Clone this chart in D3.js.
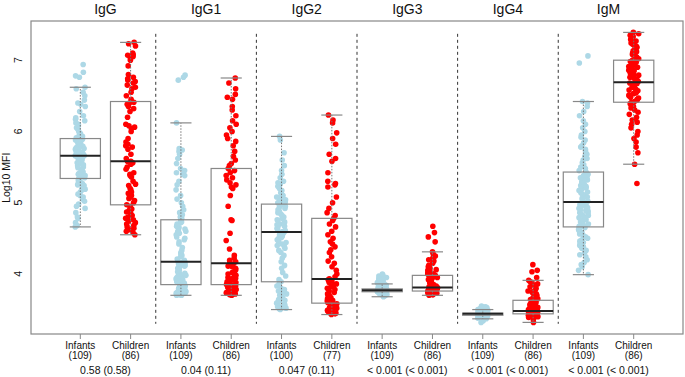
<!DOCTYPE html>
<html>
<head>
<meta charset="utf-8">
<script src="https://cdn.jsdelivr.net/npm/d3@7"></script>
<style>
	body { margin: 0; background: #fff; }
	text { font-family: 'Liberation Sans', Arial, sans-serif; fill: #111; }
</style>
</head>
<body>
<div id="chart"></div>
<script>
// panels and groups
const antibodies = ['IgG', 'IgG1', 'IgG2', 'IgG3', 'IgG4', 'IgM'];
const groups = ['Infants', 'Children'];
const groupCounts = [109, 86, 109, 86, 100, 77, 109, 86, 109, 86, 109, 86];
const pValues = ['0.58 (0.58)', '0.04 (0.11)', '0.047 (0.11)', '< 0.001 (< 0.001)', '< 0.001 (< 0.001)', '< 0.001 (< 0.001)'];
const yTicks = [4, 5, 6, 7];

// box statistics (one per box, left to right)
const whiskerLow = [4.66, 4.55, 3.70, 3.70, 3.50, 3.43, 3.68, 3.70, 3.37, 3.32, 3.99, 5.54];
const quartile1 = [5.34, 4.97, 3.85, 3.85, 3.89, 3.59, 3.75, 3.76, 3.42, 3.44, 4.66, 6.41];
const medians = [5.66, 5.58, 4.17, 4.15, 4.59, 3.93, 3.77, 3.81, 3.44, 3.48, 5.01, 6.69];
const quartile3 = [5.90, 6.42, 4.76, 5.48, 4.98, 4.78, 3.79, 3.98, 3.45, 3.63, 5.43, 7.00];
const whiskerHigh = [6.62, 7.25, 6.12, 6.75, 5.93, 6.23, 3.86, 4.31, 3.50, 3.91, 6.42, 7.39];

// individual log10 MFI values
const iggInfants = [4.66, 4.68, 4.72, 4.78, 4.80, 4.86, 4.92, 4.95, 4.98, 5.02, 5.05, 5.08, 5.10, 5.12, 5.15, 5.17, 5.19, 5.20, 5.22, 5.24, 5.25, 5.27, 5.28, 5.30, 5.31, 5.32, 5.34,
	5.35, 5.37, 5.38, 5.40, 5.41, 5.43, 5.44, 5.46, 5.47, 5.49, 5.50, 5.52, 5.53, 5.55, 5.56, 5.57, 5.58, 5.60, 5.61, 5.62, 5.63, 5.64, 5.65, 5.65, 5.66, 5.66, 5.66,
	5.67, 5.68, 5.69, 5.70, 5.71, 5.72, 5.73, 5.74, 5.75, 5.76, 5.77, 5.78, 5.79, 5.80, 5.80, 5.81, 5.82, 5.83, 5.84, 5.85, 5.86, 5.86, 5.87, 5.88, 5.88, 5.89, 5.90,
	5.91, 5.93, 5.95, 5.97, 6.00, 6.03, 6.05, 6.08, 6.10, 6.12, 6.15, 6.17, 6.19, 6.22, 6.28, 6.35, 6.38, 6.40, 6.44, 6.50, 6.55, 6.60, 6.62, 6.76, 6.78, 6.83, 6.94];
const iggChildren = [4.55, 4.58, 4.60, 4.62, 4.64, 4.66, 4.68, 4.70, 4.72, 4.74, 4.76, 4.78, 4.80, 4.82, 4.85, 4.87, 4.89, 4.91, 4.93, 4.95, 4.97,
	5.00, 5.03, 5.06, 5.08, 5.10, 5.13, 5.15, 5.18, 5.20, 5.24, 5.26, 5.30, 5.36, 5.38, 5.40, 5.42, 5.47, 5.50, 5.54, 5.56, 5.58, 5.58,
	5.62, 5.68, 5.75, 5.78, 5.80, 5.82, 5.85, 5.90, 6.00, 6.04, 6.06, 6.08, 6.10, 6.20, 6.28, 6.32, 6.35, 6.38, 6.40, 6.41, 6.42,
	6.45, 6.50, 6.55, 6.60, 6.62, 6.65, 6.68, 6.70, 6.72, 6.74, 6.76, 6.80, 6.92, 7.00, 7.03, 7.05, 7.07, 7.08, 7.10, 7.20, 7.23, 7.25];
const igg1Infants = [3.70, 3.70, 3.71, 3.71, 3.72, 3.72, 3.73, 3.73, 3.74, 3.74, 3.75, 3.75, 3.76, 3.76, 3.77, 3.77, 3.78, 3.78, 3.79, 3.80, 3.80, 3.81, 3.82, 3.82, 3.83, 3.84, 3.85,
	3.86, 3.87, 3.88, 3.89, 3.90, 3.90, 3.91, 3.92, 3.93, 3.94, 3.95, 3.96, 3.97, 3.98, 4.00, 4.01, 4.03, 4.05, 4.06, 4.08, 4.10, 4.11, 4.12, 4.14, 4.15, 4.16, 4.17,
	4.17, 4.19, 4.21, 4.24, 4.26, 4.28, 4.30, 4.33, 4.37, 4.42, 4.45, 4.48, 4.50, 4.52, 4.55, 4.57, 4.59, 4.60, 4.62, 4.63, 4.65, 4.67, 4.68, 4.70, 4.72, 4.73, 4.75, 4.76,
	4.78, 4.80, 4.83, 4.86, 4.90, 4.95, 5.00, 5.05, 5.10, 5.18, 5.25, 5.30, 5.38, 5.40, 5.42, 5.45, 5.48, 5.55, 5.62, 5.68, 5.72, 5.74, 5.76, 6.12, 6.72, 6.76, 6.79];
const igg1Children = [3.70, 3.71, 3.71, 3.72, 3.73, 3.73, 3.74, 3.75, 3.75, 3.76, 3.77, 3.78, 3.78, 3.79, 3.80, 3.81, 3.82, 3.83, 3.83, 3.84, 3.85,
	3.86, 3.87, 3.88, 3.89, 3.90, 3.91, 3.92, 3.93, 3.94, 3.95, 3.96, 3.98, 4.00, 4.02, 4.04, 4.06, 4.08, 4.10, 4.11, 4.13, 4.14, 4.15,
	4.17, 4.19, 4.22, 4.26, 4.35, 4.47, 4.57, 4.75, 4.76, 4.95, 5.10, 5.20, 5.22, 5.25, 5.28, 5.32, 5.35, 5.38, 5.42, 5.45, 5.48,
	5.52, 5.55, 5.60, 5.65, 5.72, 5.80, 5.86, 5.90, 5.95, 6.00, 6.05, 6.10, 6.15, 6.22, 6.30, 6.35, 6.45, 6.48, 6.52, 6.60, 6.68, 6.75];
const igg2Infants = [3.50, 3.51, 3.52, 3.53, 3.54, 3.55, 3.56, 3.58, 3.59, 3.60, 3.62, 3.63, 3.64, 3.66, 3.67, 3.68, 3.70, 3.72, 3.74, 3.76, 3.78, 3.80, 3.83, 3.86, 3.89,
	3.92, 3.97, 4.02, 4.08, 4.12, 4.17, 4.22, 4.26, 4.30, 4.33, 4.36, 4.38, 4.40, 4.42, 4.44, 4.46, 4.48, 4.50, 4.51, 4.53, 4.54, 4.55, 4.56, 4.58, 4.59,
	4.60, 4.61, 4.63, 4.64, 4.66, 4.67, 4.69, 4.70, 4.72, 4.73, 4.75, 4.76, 4.78, 4.80, 4.82, 4.84, 4.86, 4.88, 4.90, 4.92, 4.94, 4.95, 4.96, 4.97, 4.98,
	5.00, 5.01, 5.02, 5.03, 5.04, 5.05, 5.06, 5.08, 5.10, 5.12, 5.14, 5.17, 5.20, 5.23, 5.26, 5.28, 5.30, 5.35, 5.40, 5.45, 5.52, 5.60, 5.70, 5.88, 5.93];
const igg2Children = [3.43, 3.44, 3.45, 3.45, 3.46, 3.47, 3.48, 3.48, 3.49, 3.50, 3.51, 3.52, 3.53, 3.54, 3.55, 3.56, 3.57, 3.58, 3.59,
	3.60, 3.62, 3.63, 3.65, 3.67, 3.68, 3.70, 3.72, 3.74, 3.76, 3.78, 3.80, 3.82, 3.84, 3.86, 3.88, 3.90, 3.91, 3.92, 3.93,
	3.96, 4.00, 4.05, 4.10, 4.15, 4.18, 4.24, 4.30, 4.34, 4.38, 4.42, 4.45, 4.50, 4.55, 4.60, 4.66, 4.70, 4.75, 4.78,
	4.82, 4.86, 4.92, 5.00, 5.08, 5.22, 5.25, 5.27, 5.30, 5.42, 5.58, 5.62, 5.68, 5.82, 5.90, 5.98, 6.12, 6.16, 6.23];
const igg3Infants = [3.68, 3.69, 3.70, 3.70, 3.71, 3.71, 3.72, 3.72, 3.72, 3.73, 3.73, 3.73, 3.73, 3.74, 3.74, 3.74, 3.74, 3.74, 3.75, 3.75, 3.75, 3.75, 3.75, 3.75, 3.75, 3.75, 3.75,
	3.75, 3.76, 3.76, 3.76, 3.76, 3.76, 3.76, 3.76, 3.76, 3.76, 3.76, 3.76, 3.76, 3.77, 3.77, 3.77, 3.77, 3.77, 3.77, 3.77, 3.77, 3.77, 3.77, 3.77, 3.77, 3.77, 3.77,
	3.77, 3.77, 3.77, 3.77, 3.77, 3.78, 3.78, 3.78, 3.78, 3.78, 3.78, 3.78, 3.78, 3.78, 3.78, 3.79, 3.79, 3.79, 3.79, 3.79, 3.79, 3.79, 3.79, 3.79, 3.79, 3.79,
	3.80, 3.80, 3.80, 3.81, 3.81, 3.81, 3.82, 3.82, 3.82, 3.83, 3.83, 3.84, 3.84, 3.85, 3.85, 3.86, 3.86, 3.88, 3.89, 3.90, 3.91, 3.92, 3.93, 3.94, 3.95, 3.97, 3.98, 4.00];
const igg3Children = [3.70, 3.71, 3.71, 3.72, 3.72, 3.73, 3.73, 3.73, 3.74, 3.74, 3.74, 3.75, 3.75, 3.75, 3.75, 3.76, 3.76, 3.76, 3.76, 3.76, 3.76,
	3.77, 3.77, 3.77, 3.77, 3.78, 3.78, 3.78, 3.78, 3.79, 3.79, 3.79, 3.79, 3.80, 3.80, 3.80, 3.80, 3.80, 3.81, 3.81, 3.81, 3.81, 3.81,
	3.82, 3.82, 3.83, 3.83, 3.84, 3.85, 3.86, 3.87, 3.88, 3.89, 3.90, 3.91, 3.92, 3.93, 3.94, 3.95, 3.96, 3.96, 3.97, 3.98, 3.98,
	3.99, 4.00, 4.01, 4.02, 4.03, 4.04, 4.05, 4.06, 4.08, 4.10, 4.12, 4.15, 4.18, 4.20, 4.22, 4.25, 4.28, 4.31, 4.45, 4.52, 4.58, 4.67];
const igg4Infants = [3.32, 3.34, 3.36, 3.37, 3.38, 3.39, 3.39, 3.40, 3.40, 3.40, 3.41, 3.41, 3.41, 3.41, 3.41, 3.42, 3.42, 3.42, 3.42, 3.42, 3.42, 3.42, 3.42, 3.42, 3.42, 3.42, 3.42,
	3.43, 3.43, 3.43, 3.43, 3.43, 3.43, 3.43, 3.43, 3.43, 3.43, 3.43, 3.43, 3.43, 3.43, 3.44, 3.44, 3.44, 3.44, 3.44, 3.44, 3.44, 3.44, 3.44, 3.44, 3.44, 3.44, 3.44,
	3.44, 3.44, 3.44, 3.44, 3.44, 3.44, 3.44, 3.44, 3.44, 3.44, 3.45, 3.45, 3.45, 3.45, 3.45, 3.45, 3.45, 3.45, 3.45, 3.45, 3.45, 3.45, 3.45, 3.45, 3.45, 3.45, 3.45,
	3.45, 3.45, 3.46, 3.46, 3.46, 3.46, 3.46, 3.47, 3.47, 3.47, 3.47, 3.47, 3.48, 3.48, 3.48, 3.48, 3.49, 3.49, 3.49, 3.50, 3.50, 3.50, 3.51, 3.52, 3.52, 3.53, 3.54, 3.55];
const igg4Children = [3.32, 3.36, 3.38, 3.39, 3.40, 3.40, 3.41, 3.41, 3.42, 3.42, 3.42, 3.43, 3.43, 3.43, 3.43, 3.44, 3.44, 3.44, 3.44, 3.44, 3.44,
	3.45, 3.45, 3.45, 3.45, 3.45, 3.46, 3.46, 3.46, 3.46, 3.46, 3.46, 3.47, 3.47, 3.47, 3.47, 3.47, 3.47, 3.48, 3.48, 3.48, 3.48, 3.48,
	3.49, 3.49, 3.50, 3.50, 3.51, 3.52, 3.52, 3.53, 3.54, 3.55, 3.55, 3.56, 3.57, 3.58, 3.58, 3.59, 3.60, 3.60, 3.61, 3.62, 3.63,
	3.64, 3.65, 3.66, 3.67, 3.68, 3.70, 3.72, 3.73, 3.75, 3.76, 3.78, 3.80, 3.82, 3.84, 3.86, 3.88, 3.89, 3.91, 3.95, 4.03, 4.05, 4.13];
const igmInfants = [3.99, 4.05, 4.10, 4.13, 4.16, 4.20, 4.24, 4.27, 4.30, 4.33, 4.36, 4.38, 4.40, 4.42, 4.44, 4.46, 4.48, 4.50, 4.52, 4.54, 4.56, 4.58, 4.60, 4.62, 4.63, 4.65, 4.66,
	4.67, 4.69, 4.70, 4.72, 4.73, 4.75, 4.76, 4.78, 4.79, 4.80, 4.82, 4.83, 4.85, 4.86, 4.88, 4.89, 4.90, 4.92, 4.93, 4.94, 4.95, 4.96, 4.97, 4.98, 4.99, 5.00, 5.01,
	5.02, 5.04, 5.06, 5.08, 5.10, 5.12, 5.14, 5.15, 5.17, 5.18, 5.20, 5.21, 5.23, 5.24, 5.26, 5.27, 5.29, 5.30, 5.32, 5.33, 5.35, 5.36, 5.38, 5.39, 5.40, 5.42, 5.43,
	5.45, 5.48, 5.50, 5.53, 5.56, 5.60, 5.62, 5.65, 5.68, 5.72, 5.75, 5.78, 5.80, 5.84, 5.88, 5.92, 5.95, 6.00, 6.05, 6.10, 6.15, 6.22, 6.28, 6.35, 6.40, 6.42, 6.96, 7.06];
const igmChildren = [5.27, 5.54, 5.70, 5.78, 5.85, 5.90, 5.95, 6.00, 6.05, 6.10, 6.13, 6.16, 6.20, 6.24, 6.27, 6.30, 6.33, 6.35, 6.37, 6.39, 6.41,
	6.42, 6.44, 6.45, 6.47, 6.48, 6.50, 6.51, 6.53, 6.54, 6.55, 6.57, 6.58, 6.59, 6.61, 6.62, 6.63, 6.64, 6.65, 6.66, 6.67, 6.68, 6.69,
	6.70, 6.72, 6.73, 6.75, 6.76, 6.78, 6.79, 6.80, 6.82, 6.83, 6.85, 6.86, 6.88, 6.90, 6.91, 6.93, 6.94, 6.95, 6.97, 6.98, 7.00,
	7.02, 7.04, 7.05, 7.07, 7.08, 7.10, 7.12, 7.13, 7.15, 7.17, 7.18, 7.20, 7.22, 7.24, 7.25, 7.27, 7.29, 7.31, 7.33, 7.35, 7.37, 7.39];

const pointSets = [iggInfants, iggChildren, igg1Infants, igg1Children, igg2Infants, igg2Children,
	igg3Infants, igg3Children, igg4Infants, igg4Children, igmInfants, igmChildren];
const groupColors = ['#add8e6', '#ff0000'];

// set the dimensions of the graph
const width = 685,
	height = 377;
const plot = { left: 31, right: 683, top: 21, bottom: 334 };

const svg = d3
	.select('#chart')
	.append('svg')
	.attr('width', width)
	.attr('height', height);

// scales: boxes sit at 1..12
const x = d3.scaleLinear().domain([0.02, 12.98]).range([plot.left, plot.right]);
const y = d3.scaleLinear().domain([3.157, 7.55]).range([plot.bottom, plot.top]);
const boxHalf = 0.4,
	capHalf = 0.21;

// deterministic horizontal jitter
const jitter = (i, k) => {
	const s = Math.sin(i * 78.233 + k * 12.9898) * 43758.5453;
	return (s - Math.floor(s)) * 0.2 - 0.1;
};

// separators between antibody panels
svg
	.selectAll('.sep')
	.data(d3.range(1, antibodies.length))
	.join('line')
	.attr('x1', (d) => x(d * 2 + 0.5))
	.attr('x2', (d) => x(d * 2 + 0.5))
	.attr('y1', y(7.37))
	.attr('y2', y(3.30))
	.attr('stroke', '#333')
	.attr('stroke-width', 1)
	.attr('stroke-dasharray', '3,3');

// points
pointSets.forEach((vals, k) => {
	svg
		.append('g')
		.selectAll('circle')
		.data(vals)
		.join('circle')
		.attr('cx', (d, i) => x(k + 1 + jitter(i, k)))
		.attr('cy', (d) => y(d))
		.attr('r', 2.8)
		.attr('fill', groupColors[k % 2]);
});

// boxes
const boxes = svg.append('g');
d3.range(12).forEach((k) => {
	const c = k + 1;
	const g = boxes.append('g');
	// whiskers
	g.append('line')
		.attr('x1', x(c)).attr('x2', x(c))
		.attr('y1', y(quartile3[k])).attr('y2', y(whiskerHigh[k]))
		.attr('stroke', '#777').attr('stroke-dasharray', '1.5,1.5');
	g.append('line')
		.attr('x1', x(c)).attr('x2', x(c))
		.attr('y1', y(quartile1[k])).attr('y2', y(whiskerLow[k]))
		.attr('stroke', '#777').attr('stroke-dasharray', '1.5,1.5');
	// caps
	[whiskerLow[k], whiskerHigh[k]].forEach((v) => {
		g.append('line')
			.attr('x1', x(c - capHalf)).attr('x2', x(c + capHalf))
			.attr('y1', y(v)).attr('y2', y(v))
			.attr('stroke', '#888').attr('stroke-width', 1.2);
	});
	g.append('rect')
		.attr('x', x(c - boxHalf))
		.attr('y', y(quartile3[k]))
		.attr('width', x(c + boxHalf) - x(c - boxHalf))
		.attr('height', Math.max(0.5, y(quartile1[k]) - y(quartile3[k])))
		.attr('fill', 'none')
		.attr('stroke', '#888')
		.attr('stroke-width', 1.2);
	g.append('line')
		.attr('x1', x(c - boxHalf)).attr('x2', x(c + boxHalf))
		.attr('y1', y(medians[k])).attr('y2', y(medians[k]))
		.attr('stroke', '#222').attr('stroke-width', 2);
});

// frame
svg
	.append('rect')
	.attr('x', plot.left)
	.attr('y', plot.top)
	.attr('width', plot.right - plot.left)
	.attr('height', plot.bottom - plot.top)
	.attr('fill', 'none')
	.attr('stroke', '#888')
	.attr('stroke-width', 1.2);

// y axis labels
svg
	.selectAll('.ytick')
	.data(yTicks)
	.join('text')
	.attr('transform', (d) => `translate(22,${y(d)}) rotate(-90)`)
	.attr('text-anchor', 'middle')
	.style('font-size', '10.5px')
	.text((d) => d);
svg
	.append('text')
	.attr('transform', `translate(10,${y(5.35)}) rotate(-90)`)
	.attr('text-anchor', 'middle')
	.style('font-size', '10.5px')
	.text('Log10 MFI');

// x axis ticks and labels
d3.range(12).forEach((k) => {
	const c = k + 1;
	svg.append('line')
		.attr('x1', x(c)).attr('x2', x(c))
		.attr('y1', plot.bottom).attr('y2', plot.bottom + 5)
		.attr('stroke', '#888');
	svg.append('text')
		.attr('x', x(c)).attr('y', 349)
		.attr('text-anchor', 'middle')
		.style('font-size', '10px')
		.text(groups[k % 2]);
	svg.append('text')
		.attr('x', x(c)).attr('y', 359)
		.attr('text-anchor', 'middle')
		.style('font-size', '10px')
		.text(`(${groupCounts[k]})`);
});

// panel titles and p-values
antibodies.forEach((name, j) => {
	const mid = x(j * 2 + 1.5);
	svg.append('text')
		.attr('x', mid).attr('y', 13.5)
		.attr('text-anchor', 'middle')
		.style('font-size', '14px')
		.text(name);
	svg.append('text')
		.attr('x', mid).attr('y', 373.5)
		.attr('text-anchor', 'middle')
		.style('font-size', '10.5px')
		.text(pValues[j]);
});
</script>
</body>
</html>
